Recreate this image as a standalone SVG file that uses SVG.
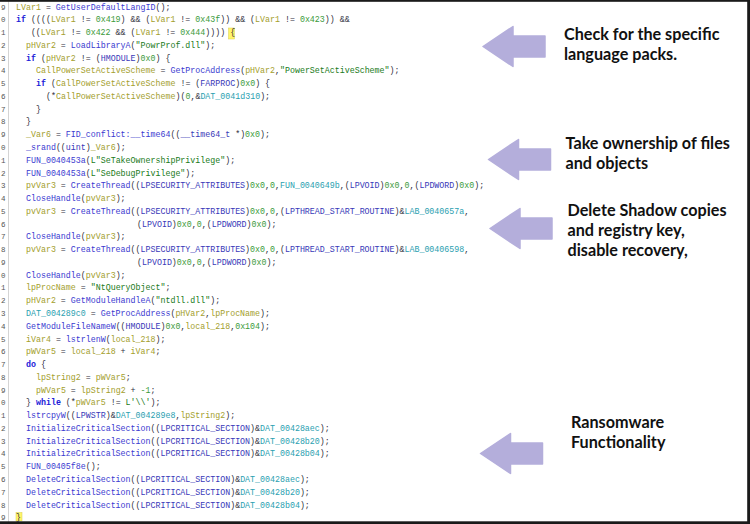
<svg xmlns="http://www.w3.org/2000/svg" width="750" height="524" viewBox="0 0 750 524">
<style>
.code text{font-family:"Liberation Mono","DejaVu Sans Mono",monospace;font-size:8.3px;fill:#303040}
.code text.ln{fill:#555;font-size:7.5px}
.v{fill:#a39e2c}
.f{fill:#3a3ad0}
.k{fill:#2020d8;font-weight:bold}
.t{fill:#3838b8}
.c{fill:#3a9a3a}
.s{fill:#207a20}
.g{fill:#2aa0b0}
.hl{fill:#fff56a;stroke:#d8cf50;stroke-width:0.5}
.lbl{font-family:Lato,"Open Sans","Liberation Sans",sans-serif;font-weight:700;font-size:16.2px;fill:#111}
.arr{fill:#b4aedb;stroke:#b4aedb;stroke-width:1.5;stroke-linejoin:round}
</style>
<defs>
<path id="blockArrow" d="M0,0 L30,-20 L30,-10.5 L62,-10.5 L62,10.5 L30,10.5 L30,20 Z"/>
</defs>
<rect x="0" y="0" width="750" height="524" fill="#fff"/>
<g id="code" class="code">
<line x1="8.5" y1="0" x2="8.5" y2="524" stroke="#d4d4d4" stroke-width="1"/>
<rect class="hl" x="228.5" y="28" width="6" height="11"/>
<rect class="hl" x="16" y="512.5" width="6" height="8.5"/>
<g class="gutter">
<text class="ln" x="1" y="9.5">9</text>
<text class="ln" x="1" y="22.3">0</text>
<text class="ln" x="1" y="35.1">1</text>
<text class="ln" x="1" y="47.8">2</text>
<text class="ln" x="1" y="60.6">3</text>
<text class="ln" x="1" y="73.4">4</text>
<text class="ln" x="1" y="86.1">5</text>
<text class="ln" x="1" y="98.9">6</text>
<text class="ln" x="1" y="111.7">7</text>
<text class="ln" x="1" y="124.4">8</text>
<text class="ln" x="1" y="137.2">9</text>
<text class="ln" x="1" y="150.0">0</text>
<text class="ln" x="1" y="162.7">1</text>
<text class="ln" x="1" y="175.5">2</text>
<text class="ln" x="1" y="188.3">3</text>
<text class="ln" x="1" y="201.0">4</text>
<text class="ln" x="1" y="213.8">5</text>
<text class="ln" x="1" y="226.6">6</text>
<text class="ln" x="1" y="239.4">7</text>
<text class="ln" x="1" y="252.1">8</text>
<text class="ln" x="1" y="264.9">9</text>
<text class="ln" x="1" y="277.7">0</text>
<text class="ln" x="1" y="290.4">1</text>
<text class="ln" x="1" y="303.2">2</text>
<text class="ln" x="1" y="316.0">3</text>
<text class="ln" x="1" y="328.7">4</text>
<text class="ln" x="1" y="341.5">5</text>
<text class="ln" x="1" y="354.3">6</text>
<text class="ln" x="1" y="367.0">7</text>
<text class="ln" x="1" y="379.8">8</text>
<text class="ln" x="1" y="392.6">9</text>
<text class="ln" x="1" y="405.3">0</text>
<text class="ln" x="1" y="418.1">1</text>
<text class="ln" x="1" y="430.9">2</text>
<text class="ln" x="1" y="443.6">3</text>
<text class="ln" x="1" y="456.4">4</text>
<text class="ln" x="1" y="469.2">5</text>
<text class="ln" x="1" y="481.9">6</text>
<text class="ln" x="1" y="494.7">7</text>
<text class="ln" x="1" y="507.5">8</text>
<text class="ln" x="1" y="519.8">9</text>
</g>
<text x="16" y="9.5"><tspan class="v">LVar1</tspan> = <tspan class="f">GetUserDefaultLangID</tspan>();</text>
<text x="16" y="22.3"><tspan class="k">if</tspan> ((((<tspan class="v">LVar1</tspan> != <tspan class="c">0x419</tspan>) &amp;&amp; (<tspan class="v">LVar1</tspan> != <tspan class="c">0x43f</tspan>)) &amp;&amp; (<tspan class="v">LVar1</tspan> != <tspan class="c">0x423</tspan>)) &amp;&amp;</text>
<text x="30.9" y="35.1">((<tspan class="v">LVar1</tspan> != <tspan class="c">0x422</tspan> &amp;&amp; (<tspan class="v">LVar1</tspan> != <tspan class="c">0x444</tspan>)))) {</text>
<text x="26" y="47.8"><tspan class="v">pHVar2</tspan> = <tspan class="f">LoadLibraryA</tspan>(<tspan class="s">"PowrProf.dll"</tspan>);</text>
<text x="26" y="60.6"><tspan class="k">if</tspan> (<tspan class="v">pHVar2</tspan> != (<tspan class="t">HMODULE</tspan>)<tspan class="c">0x0</tspan>) {</text>
<text x="36" y="73.4"><tspan class="v">CallPowerSetActiveScheme</tspan> = <tspan class="f">GetProcAddress</tspan>(<tspan class="v">pHVar2</tspan>,<tspan class="s">"PowerSetActiveScheme"</tspan>);</text>
<text x="36" y="86.1"><tspan class="k">if</tspan> (<tspan class="v">CallPowerSetActiveScheme</tspan> != (<tspan class="t">FARPROC</tspan>)<tspan class="c">0x0</tspan>) {</text>
<text x="46" y="98.9">(*<tspan class="v">CallPowerSetActiveScheme</tspan>)(<tspan class="c">0</tspan>,&amp;<tspan class="g">DAT_0041d310</tspan>);</text>
<text x="36" y="111.7">}</text>
<text x="26" y="124.4">}</text>
<text x="26" y="137.2"><tspan class="v">_Var6</tspan> = <tspan class="f">FID_conflict:__time64</tspan>((<tspan class="t">__time64_t</tspan> *)<tspan class="c">0x0</tspan>);</text>
<text x="26" y="150.0"><tspan class="f">_srand</tspan>((<tspan class="t">uint</tspan>)<tspan class="v">_Var6</tspan>);</text>
<text x="26" y="162.7"><tspan class="f">FUN_0040453a</tspan>(<tspan class="s">L"SeTakeOwnershipPrivilege"</tspan>);</text>
<text x="26" y="175.5"><tspan class="f">FUN_0040453a</tspan>(<tspan class="s">L"SeDebugPrivilege"</tspan>);</text>
<text x="26" y="188.3"><tspan class="v">pvVar3</tspan> = <tspan class="f">CreateThread</tspan>((<tspan class="t">LPSECURITY_ATTRIBUTES</tspan>)<tspan class="c">0x0</tspan>,<tspan class="c">0</tspan>,<tspan class="g">FUN_0040649b</tspan>,(<tspan class="t">LPVOID</tspan>)<tspan class="c">0x0</tspan>,<tspan class="c">0</tspan>,(<tspan class="t">LPDWORD</tspan>)<tspan class="c">0x0</tspan>);</text>
<text x="26" y="201.0"><tspan class="f">CloseHandle</tspan>(<tspan class="v">pvVar3</tspan>);</text>
<text x="26" y="213.8"><tspan class="v">pvVar3</tspan> = <tspan class="f">CreateThread</tspan>((<tspan class="t">LPSECURITY_ATTRIBUTES</tspan>)<tspan class="c">0x0</tspan>,<tspan class="c">0</tspan>,(<tspan class="t">LPTHREAD_START_ROUTINE</tspan>)&amp;<tspan class="g">LAB_0040657a</tspan>,</text>
<text x="137" y="226.6">(<tspan class="t">LPVOID</tspan>)<tspan class="c">0x0</tspan>,<tspan class="c">0</tspan>,(<tspan class="t">LPDWORD</tspan>)<tspan class="c">0x0</tspan>);</text>
<text x="26" y="239.4"><tspan class="f">CloseHandle</tspan>(<tspan class="v">pvVar3</tspan>);</text>
<text x="26" y="252.1"><tspan class="v">pvVar3</tspan> = <tspan class="f">CreateThread</tspan>((<tspan class="t">LPSECURITY_ATTRIBUTES</tspan>)<tspan class="c">0x0</tspan>,<tspan class="c">0</tspan>,(<tspan class="t">LPTHREAD_START_ROUTINE</tspan>)&amp;<tspan class="g">LAB_00406598</tspan>,</text>
<text x="137" y="264.9">(<tspan class="t">LPVOID</tspan>)<tspan class="c">0x0</tspan>,<tspan class="c">0</tspan>,(<tspan class="t">LPDWORD</tspan>)<tspan class="c">0x0</tspan>);</text>
<text x="26" y="277.7"><tspan class="f">CloseHandle</tspan>(<tspan class="v">pvVar3</tspan>);</text>
<text x="26" y="290.4"><tspan class="v">lpProcName</tspan> = <tspan class="s">"NtQueryObject"</tspan>;</text>
<text x="26" y="303.2"><tspan class="v">pHVar2</tspan> = <tspan class="f">GetModuleHandleA</tspan>(<tspan class="s">"ntdll.dll"</tspan>);</text>
<text x="26" y="316.0"><tspan class="g">DAT_004289c0</tspan> = <tspan class="f">GetProcAddress</tspan>(<tspan class="v">pHVar2</tspan>,<tspan class="v">lpProcName</tspan>);</text>
<text x="26" y="328.7"><tspan class="f">GetModuleFileNameW</tspan>((<tspan class="t">HMODULE</tspan>)<tspan class="c">0x0</tspan>,<tspan class="v">local_218</tspan>,<tspan class="c">0x104</tspan>);</text>
<text x="26" y="341.5"><tspan class="v">iVar4</tspan> = <tspan class="f">lstrlenW</tspan>(<tspan class="v">local_218</tspan>);</text>
<text x="26" y="354.3"><tspan class="v">pWVar5</tspan> = <tspan class="v">local_218</tspan> + <tspan class="v">iVar4</tspan>;</text>
<text x="26" y="367.0"><tspan class="k">do</tspan> {</text>
<text x="36" y="379.8"><tspan class="v">lpString2</tspan> = <tspan class="v">pWVar5</tspan>;</text>
<text x="36" y="392.6"><tspan class="v">pWVar5</tspan> = <tspan class="v">lpString2</tspan> + <tspan class="c">-1</tspan>;</text>
<text x="26" y="405.3">} <tspan class="k">while</tspan> (*<tspan class="v">pWVar5</tspan> != <tspan class="s">L'\\'</tspan>);</text>
<text x="26" y="418.1"><tspan class="f">lstrcpyW</tspan>((<tspan class="t">LPWSTR</tspan>)&amp;<tspan class="g">DAT_004289e8</tspan>,<tspan class="v">lpString2</tspan>);</text>
<text x="26" y="430.9"><tspan class="f">InitializeCriticalSection</tspan>((<tspan class="t">LPCRITICAL_SECTION</tspan>)&amp;<tspan class="g">DAT_00428aec</tspan>);</text>
<text x="26" y="443.6"><tspan class="f">InitializeCriticalSection</tspan>((<tspan class="t">LPCRITICAL_SECTION</tspan>)&amp;<tspan class="g">DAT_00428b20</tspan>);</text>
<text x="26" y="456.4"><tspan class="f">InitializeCriticalSection</tspan>((<tspan class="t">LPCRITICAL_SECTION</tspan>)&amp;<tspan class="g">DAT_00428b04</tspan>);</text>
<text x="26" y="469.2"><tspan class="f">FUN_00405f8e</tspan>();</text>
<text x="26" y="481.9"><tspan class="f">DeleteCriticalSection</tspan>((<tspan class="t">LPCRITICAL_SECTION</tspan>)&amp;<tspan class="g">DAT_00428aec</tspan>);</text>
<text x="26" y="494.7"><tspan class="f">DeleteCriticalSection</tspan>((<tspan class="t">LPCRITICAL_SECTION</tspan>)&amp;<tspan class="g">DAT_00428b20</tspan>);</text>
<text x="26" y="507.5"><tspan class="f">DeleteCriticalSection</tspan>((<tspan class="t">LPCRITICAL_SECTION</tspan>)&amp;<tspan class="g">DAT_00428b04</tspan>);</text>
<text x="16" y="519.5">}</text>
</g>
<g id="connectors">
<use href="#blockArrow" class="arr" x="483" y="46.5"/>
<use href="#blockArrow" class="arr" x="488.5" y="159.5"/>
<use href="#blockArrow" class="arr" x="490" y="228.5"/>
<use href="#blockArrow" class="arr" x="480.5" y="453.5"/>
</g>
<g id="note-language">
<text class="lbl" x="564" y="39.5">Check for the specific</text>
<text class="lbl" x="564" y="59.5">language packs.</text>
</g>
<g id="note-ownership">
<text class="lbl" x="565.5" y="149">Take ownership of files</text>
<text class="lbl" x="565.5" y="169">and objects</text>
</g>
<g id="note-shadow">
<text class="lbl" x="567.5" y="216">Delete Shadow copies</text>
<text class="lbl" x="567.5" y="236">and registry key,</text>
<text class="lbl" x="567.5" y="256">disable recovery,</text>
</g>
<g id="note-ransomware">
<text class="lbl" x="571" y="428">Ransomware</text>
<text class="lbl" x="571" y="448">Functionality</text>
</g>
<g id="frame">
<rect x="0" y="0" width="750" height="1.8" fill="#1a1a1a"/>
<rect x="747.2" y="0" width="2.8" height="524" fill="#1a1a1a"/>
<rect x="0" y="521.3" width="750" height="2.7" fill="#1a1a1a"/>
</g>
</svg>
